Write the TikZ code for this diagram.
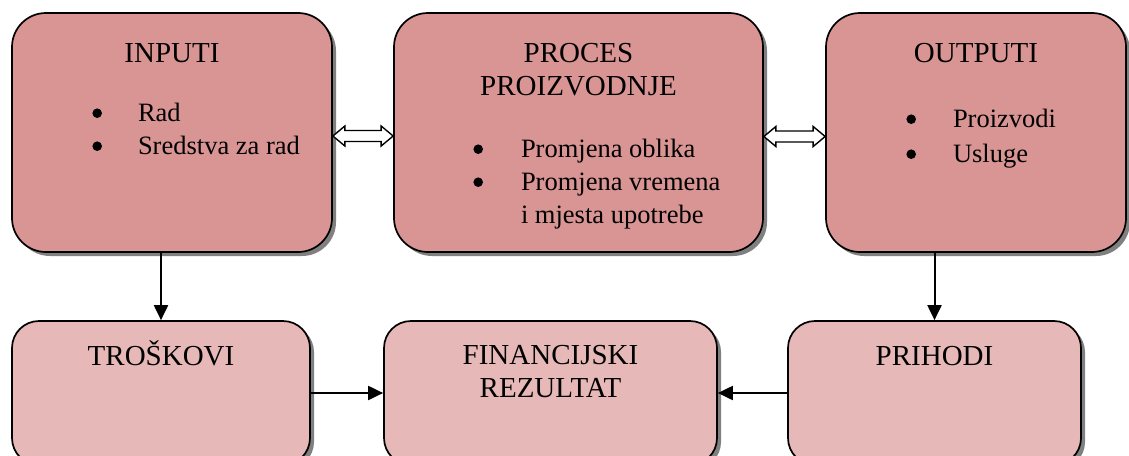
\documentclass[tikz,border=0pt]{standalone}
\usepackage{fontspec}
\setmainfont{Liberation Serif}
\usetikzlibrary{calc,arrows.meta,shadows}

\definecolor{gornja}{HTML}{D99594}
\definecolor{donja}{HTML}{E6B8B7}

\newcommand{\tocka}{\tikz[baseline=0pt]\fill (0,7.8pt) circle (4.8pt);}

\tikzset{
  sjena/.style={drop shadow={shadow xshift=4pt, shadow yshift=-4pt, fill=black!50, opacity=1}},
  gornji/.style={draw, line width=1.7pt, fill=gornja, rounded corners=34pt, minimum width=#1, minimum height=239pt, inner sep=0pt, sjena},
  donji/.style={draw, line width=1.7pt, fill=donja, rounded corners=27pt, minimum width=#1, minimum height=144pt, inner sep=0pt, sjena},
  naslov/.style={inner sep=0pt, font=\fontsize{29}{33}\selectfont},
  lista/.style={inner sep=0pt, font=\fontsize{26.5}{33}\selectfont},
  strel/.style={-{Triangle[length=15pt,width=14pt]}, line width=2pt},
  dvostr/.style={draw, fill=white, line width=1.4pt, line join=miter}
}

\begin{document}
\begin{tikzpicture}[x=1pt,y=-1pt]
  \useasboundingbox (0,0) rectangle (1129,455);
  \clip (0,0) rectangle (1129,455);

  % gornji red
  \node[gornji=320pt] (inputi) at (172,132.5) {};
  \node[gornji=369pt] (proces) at (578.5,132.5) {};
  \node[gornji=300pt] (outputi) at (976,132.5) {};

  % donji red
  \node[donji=298pt] (troskovi) at (161,393) {};
  \node[donji=333pt] (rezultat) at (550.5,393) {};
  \node[donji=293pt] (prihodi) at (934.5,393) {};

  % tekst
  \node[naslov, anchor=base] (tinputi) at (172,62) {INPUTI};
  \node[lista, anchor=base west] (linputi) at (92.2,121)
    {\begin{tabular}[t]{@{}l@{\hspace{36pt}}l@{}}\tocka&Rad\\\tocka&Sredstva za rad\end{tabular}};
  \node[naslov, anchor=base] (tproces) at (578.5,62)
    {\begin{tabular}[t]{@{}c@{}}PROCES\\PROIZVODNJE\end{tabular}};
  \node[lista, anchor=base west] (lproces) at (473.2,157)
    {\begin{tabular}[t]{@{}l@{\hspace{38pt}}l@{}}\tocka&Promjena oblika\\\tocka&Promjena vremena\\&i mjesta upotrebe\end{tabular}};
  \node[naslov, anchor=base] (toutputi) at (976,62) {OUTPUTI};
  \node[lista, anchor=base west] (loutputi) at (906.2,127)
    {\begin{tabular}[t]{@{}l@{\hspace{37pt}}l@{}}\tocka&Proizvodi\\[2pt]\tocka&Usluge\end{tabular}};
  \node[naslov, anchor=base] (ttroskovi) at (161,365) {TROŠKOVI};
  \node[naslov, anchor=base] (trezultat) at (550.5,364)
    {\begin{tabular}[t]{@{}c@{}}FINANCIJSKI\\REZULTAT\end{tabular}};
  \node[naslov, anchor=base] (tprihodi) at (934.5,365) {PRIHODI};

  % dvostruke strelice
  \coordinate (l1) at ($(inputi.east)+(0,3.5)$);
  \coordinate (r1) at ($(proces.west)+(0,3.5)$);
  \draw[dvostr] (l1) -- ++(12,-10) -- ++(0,4.5) -- ($(r1)+(-12,-5.5)$) -- ++(0,-4.5) -- (r1)
    -- ++(-12,10) -- ++(0,-4.5) -- ($(l1)+(12,5.5)$) -- ++(0,4.5) -- cycle;
  \coordinate (l2) at ($(proces.east)+(0,4)$);
  \coordinate (r2) at ($(outputi.west)+(0,4)$);
  \draw[dvostr] (l2) -- ++(12,-10) -- ++(0,4.5) -- ($(r2)+(-12,-5.5)$) -- ++(0,-4.5) -- (r2)
    -- ++(-12,10) -- ++(0,-4.5) -- ($(l2)+(12,5.5)$) -- ++(0,4.5) -- cycle;

  % strelice
  \draw[strel] (inputi.south -| troskovi.north) -- (troskovi.north);
  \draw[strel] (outputi.south -| prihodi.north) -- (prihodi.north);
  \draw[strel] (troskovi.east) -- (rezultat.west);
  \draw[strel] (prihodi.west) -- (rezultat.east);
\end{tikzpicture}
\end{document}
